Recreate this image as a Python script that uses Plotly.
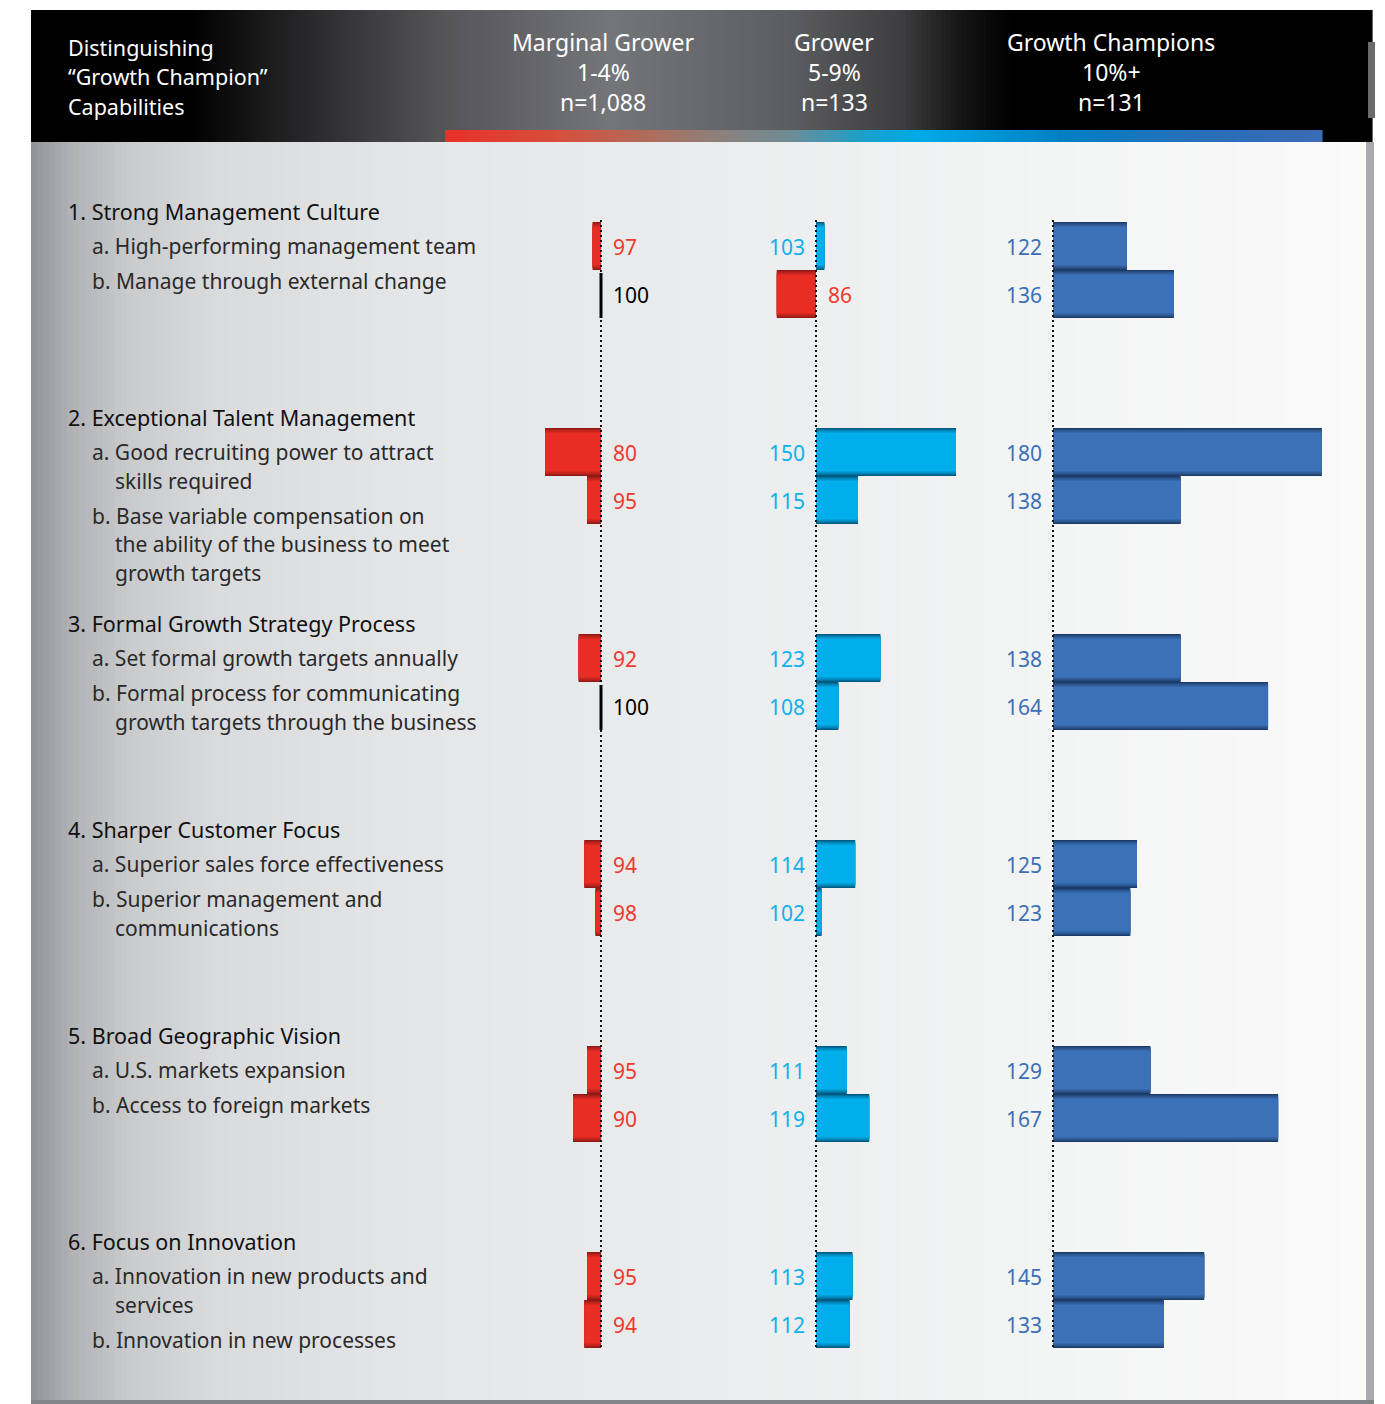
import plotly.graph_objects as go

# ---------------------------------------------------------------- data
GROUP_TITLES = [
    "1. Strong Management Culture",
    "2. Exceptional Talent Management",
    "3. Formal Growth Strategy Process",
    "4. Sharper Customer Focus",
    "5. Broad Geographic Vision",
    "6. Focus on Innovation",
]
ITEM_LABELS = [
    [["a. High-performing management team"],
     ["b. Manage through external change"]],
    [["a. Good recruiting power to attract", "skills required"],
     ["b. Base variable compensation on", "the ability of the business to meet", "growth targets"]],
    [["a. Set formal growth targets annually"],
     ["b. Formal process for communicating", "growth targets through the business"]],
    [["a. Superior sales force effectiveness"],
     ["b. Superior management and", "communications"]],
    [["a. U.S. markets expansion"],
     ["b. Access to foreign markets"]],
    [["a. Innovation in new products and", "services"],
     ["b. Innovation in new processes"]],
]
SEGMENT_NAMES = ["Marginal Grower", "Grower", "Growth Champions"]
SEGMENT_RATES = ["1-4%", "5-9%", "10%+"]
SEGMENT_COUNTS = ["n=1,088", "n=133", "n=131"]
HEADER_TITLE = ["Distinguishing", "\u201cGrowth Champion\u201d", "Capabilities"]

MARGINAL_GROWER = [97, 100, 80, 95, 92, 100, 94, 98, 95, 90, 95, 94]
GROWER = [103, 86, 150, 115, 123, 108, 114, 102, 111, 119, 113, 112]
GROWTH_CHAMPIONS = [122, 136, 180, 138, 138, 164, 125, 123, 129, 167, 145, 133]
INDEX_BASE = 100

# ---------------------------------------------------------------- layout
W, H = 1385, 1404
FONT = "Noto Sans"

# below-index bars share one red look in every segment
BELOW = dict(fill=(232, 45, 36), edge=(142, 25, 21), txt="#ee3a2e")

# per-segment drawing style: baseline position (px) and px per index point
SEG_STYLE = [
    dict(values=MARGINAL_GROWER, base_px=601, scale=2.8,
         fill=(0, 174, 236), edge=(0, 90, 128), txt="#0fb0ee"),
    dict(values=GROWER, base_px=816, scale=2.8,
         fill=(0, 174, 236), edge=(0, 90, 128), txt="#0fb0ee"),
    dict(values=GROWTH_CHAMPIONS, base_px=1053, scale=3.36,
         fill=(58, 113, 183), edge=(30, 60, 104), txt="#3a70b8"),
]

FIRST_BAR_TOP = 222
GROUP_STEP = 206
BAR_H = 48
SHADE_STEPS = 5          # layers used for the soft inner edge of each bar


def bar_center(g, i):
    return FIRST_BAR_TOP + g * GROUP_STEP + i * BAR_H + BAR_H / 2


def px(x):
    return x / W


def interp(stops, x):
    for (x0, c0), (x1, c1) in zip(stops, stops[1:]):
        if x0 <= x <= x1:
            t = (x - x0) / (x1 - x0) if x1 > x0 else 0
            return tuple(a + (b - a) * t for a, b in zip(c0, c1))
    return stops[-1][1] if x > stops[-1][0] else stops[0][1]


def hex_rgb(c):
    return "#%02x%02x%02x" % tuple(int(round(max(0, min(255, v)))) for v in c)


def mix(c0, c1, t):
    return tuple(a + (b - a) * t for a, b in zip(c0, c1))


shapes = []


def strips(x0, x1, y0, y1, stops, step=5):
    x = x0
    while x < x1:
        xe = min(x + step, x1)
        col = hex_rgb(interp(stops, (x + xe) / 2))
        shapes.append(dict(type="rect", xref="paper", yref="paper",
                           x0=px(x), x1=px(xe + 0.6), y0=1 - y1 / H, y1=1 - y0 / H,
                           fillcolor=col, line=dict(width=0), layer="below"))
        x = xe


# body panel: grey on the left fading to near white on the right
body_stops = [(31, (146, 147, 150)), (70, (176, 177, 180)), (130, (202, 203, 205)),
              (220, (218, 219, 221)), (420, (229, 230, 231)), (750, (236, 237, 238)),
              (1050, (243, 244, 244)), (1366, (250, 250, 250))]
strips(31, 1366, 142, 1400, body_stops, step=6)
# right and bottom edges of the panel
shapes.append(dict(type="rect", xref="paper", yref="paper", x0=px(1366), x1=px(1374),
                   y0=1 - 1404 / H, y1=1 - 142 / H, fillcolor="#a9aaad", line=dict(width=0), layer="below"))
shapes.append(dict(type="rect", xref="paper", yref="paper", x0=px(31), x1=px(1374),
                   y0=0, y1=1 - 1400 / H, fillcolor="#838487", line=dict(width=0), layer="below"))

# header band: black with a grey glow behind the first two segment titles
head_stops = [(31, (0, 0, 0)), (190, (0, 0, 0)), (300, (38, 38, 40)), (440, (84, 84, 87)),
              (610, (116, 117, 121)), (790, (92, 93, 96)), (900, (62, 62, 64)),
              (960, (22, 22, 22)), (1010, (0, 0, 0)), (1372, (0, 0, 0))]
strips(31, 1372, 10, 142, head_stops, step=5)
# glossy right edge of the header
shapes.append(dict(type="rect", xref="paper", yref="paper", x0=px(1368), x1=px(1375),
                   y0=1 - 118 / H, y1=1 - 42 / H, fillcolor="#6a6b6e", line=dict(width=0), layer="below"))

# colour strip under the header, from red through grey to blue
strip_stops = [(445, (232, 48, 40)), (560, (214, 80, 60)), (660, (170, 112, 96)),
               (720, (140, 128, 124)), (790, (110, 140, 150)), (860, (30, 160, 200)),
               (920, (0, 170, 230)), (1060, (0, 128, 196)), (1200, (40, 110, 185)),
               (1322, (58, 108, 180))]
strips(445, 1322, 130, 142, strip_stops, step=4)

fig = go.Figure()

axis_names = ["x", "x2", "x3"]
annotations = []

n_groups = len(GROUP_TITLES)
flat = [(g, i) for g in range(n_groups) for i in range(2)]
for s, st in enumerate(SEG_STYLE):
    xa = axis_names[s]
    vals = st["values"]
    ys = [bar_center(g, i) for g, i in flat]
    lens = [v - INDEX_BASE for v in vals]

    # bars from the 100 index line; stacked layers give the soft shaded edges
    for layer in range(SHADE_STEPS):
        t = layer / (SHADE_STEPS - 1)
        cols = []
        for v in vals:
            pal = BELOW if v < INDEX_BASE else st
            cols.append(hex_rgb(mix(pal["edge"], pal["fill"], t ** 0.7)))
        fig.add_trace(go.Bar(
            x=lens, y=ys, base=INDEX_BASE, orientation="h", width=BAR_H - 2.5 * layer,
            marker=dict(color=cols, line=dict(width=0)),
            xaxis=xa, yaxis="y", showlegend=False, hoverinfo="skip"))
    # dotted index line
    top = bar_center(0, 0) - BAR_H / 2
    bottom = bar_center(n_groups - 1, 1) + BAR_H / 2
    fig.add_trace(go.Scatter(
        x=[INDEX_BASE, INDEX_BASE], y=[top - 2, bottom], mode="lines",
        line=dict(color="#111111", width=2, dash="2px,3px"),
        xaxis=xa, yaxis="y", showlegend=False, hoverinfo="skip"))
    for k, (g, i) in enumerate(flat):
        v = vals[k]
        yc = ys[k]
        # values equal to the index drawn as a solid marker line
        if v == INDEX_BASE:
            fig.add_trace(go.Scatter(
                x=[v, v], y=[yc - BAR_H / 2 + 3, yc + BAR_H / 2], mode="lines",
                line=dict(color="#000000", width=3),
                xaxis=xa, yaxis="y", showlegend=False, hoverinfo="skip"))
        if v < INDEX_BASE:
            col, anchor, shift = BELOW["txt"], "left", 10
        elif v > INDEX_BASE:
            col, anchor, shift = st["txt"], "right", -9
        else:
            col, anchor, shift = "#000000", "left", 10
        annotations.append(dict(
            x=INDEX_BASE, y=yc + 1, xref=xa, yref="y", text=str(v), showarrow=False,
            xanchor=anchor, yanchor="middle", xshift=shift,
            font=dict(family=FONT, size=21, color=col)))

# left-hand capability text
ITEM_GAP = 35
LINE_GAP = 28.5
for g in range(n_groups):
    y = FIRST_BAR_TOP + g * GROUP_STEP - 11
    annotations.append(dict(x=px(66), y=y, xref="paper", yref="y", text=GROUP_TITLES[g],
                            showarrow=False, xanchor="left", yanchor="middle",
                            font=dict(family=FONT, size=21.5, color="#101010")))
    y += ITEM_GAP
    for lines in ITEM_LABELS[g]:
        for j, line in enumerate(lines):
            annotations.append(dict(x=px(90 if j == 0 else 113), y=y, xref="paper", yref="y",
                                    text=line, showarrow=False, xanchor="left", yanchor="middle",
                                    font=dict(family=FONT, size=21, color="#2a2a2a")))
            y += LINE_GAP if j < len(lines) - 1 else 0
        y += ITEM_GAP

# header text
for j, line in enumerate(HEADER_TITLE):
    annotations.append(dict(x=px(66), y=1 - (47 + 30 * j) / H, xref="paper", yref="paper",
                            text=line, showarrow=False, xanchor="left", yanchor="middle",
                            font=dict(family=FONT, size=21.5, color="#ffffff")))
HEAD_CENTERS = [603, 834, 1111]
for s in range(3):
    for j, line in enumerate([SEGMENT_NAMES[s], SEGMENT_RATES[s], SEGMENT_COUNTS[s]]):
        annotations.append(dict(x=px(HEAD_CENTERS[s]), y=1 - (42 + 30 * j) / H, xref="paper",
                                yref="paper", text=line, showarrow=False, xanchor="center",
                                yanchor="middle", font=dict(family=FONT, size=23, color="#ffffff")))

# each segment axis spans the full width; its range puts 100 at the baseline
axis_common = dict(visible=False, showgrid=False, zeroline=False, fixedrange=True, domain=[0, 1])
layout_axes = {}
for s, st in enumerate(SEG_STYLE):
    lo = INDEX_BASE - st["base_px"] / st["scale"]
    hi = lo + W / st["scale"]
    key = "xaxis" if s == 0 else "xaxis%d" % (s + 1)
    ax = dict(axis_common, range=[lo, hi], anchor="y")
    if s > 0:
        ax["overlaying"] = "x"
    layout_axes[key] = ax

fig.update_layout(
    width=W, height=H, margin=dict(l=0, r=0, t=0, b=0),
    paper_bgcolor="#ffffff", plot_bgcolor="rgba(0,0,0,0)",
    yaxis=dict(visible=False, range=[H, 0], domain=[0, 1], fixedrange=True),
    shapes=shapes, annotations=annotations, barmode="overlay",
    **layout_axes,
)

fig.write_html("out.html")
